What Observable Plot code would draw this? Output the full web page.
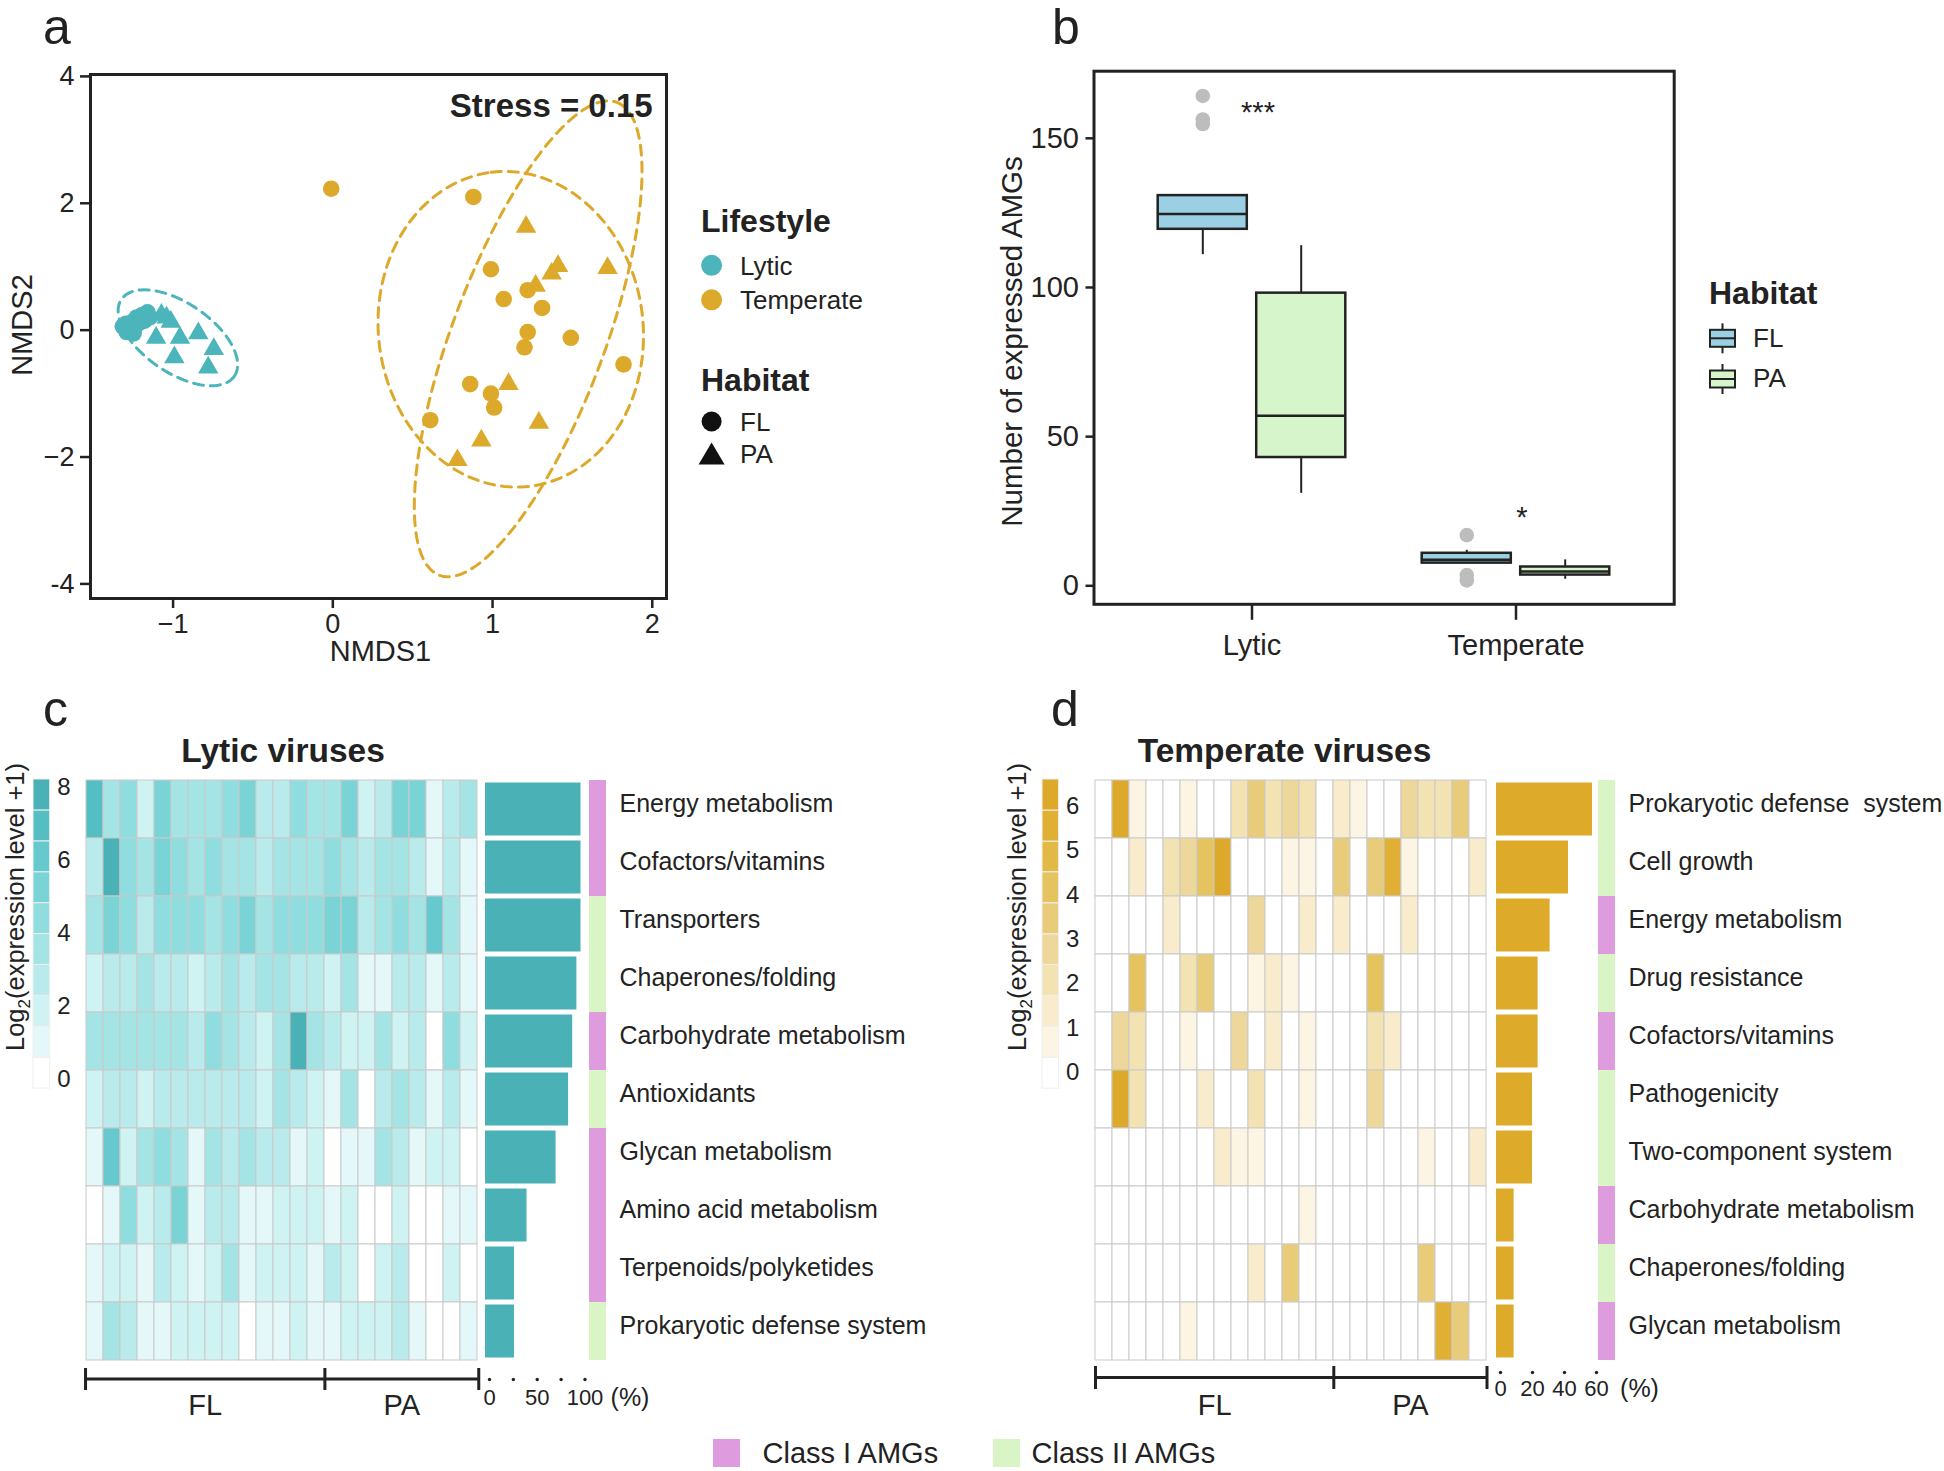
<!DOCTYPE html>
<html>
<head>
<meta charset="utf-8">
<script src="https://cdn.jsdelivr.net/npm/d3@7"></script>
<script src="https://cdn.jsdelivr.net/npm/@observablehq/plot@0.6"></script>
<style>
html, body { margin: 0; padding: 0; background: #fff; }
#fig { position: relative; width: 1944px; height: 1471px; overflow: hidden; background: #fff; }
</style>
</head>
<body>
<div id="fig"></div>
<script>
const TEAL = "#4BB5BB", GOLD = "#DDA92B", INK = "#222222";
const FONT = "'Liberation Sans', Arial, Helvetica, sans-serif";

// ---------------- Panel a : NMDS ----------------
const nmdsXTicks = [-1, 0, 1, 2];
const nmdsXTickLabels = ["\u22121", "0", "1", "2"];
const nmdsYTicks = [4, 2, 0, -2, -4];
const nmdsYTickLabels = ["4", "2", "0", "\u22122", "-4"];
const lyticFL = [[-1.315,0.06],[-1.296,0.10],[-1.277,0.03],[-1.269,-0.02],[-1.255,0.13],[-1.236,0.06],[-1.228,0.20],
  [-1.209,0.12],[-1.193,0.24],[-1.179,0.15],[-1.160,0.28],[-1.147,0.20],[-1.291,-0.03],[-1.247,-0.05]];
const lyticPA = [[-1.073,0.24],[-1.014,0.13],[-1.041,0.20],[-1.106,-0.12],[-0.957,-0.12],[-0.842,-0.05],
  [-0.745,-0.30],[-0.992,-0.43],[-0.780,-0.59]];
const temperateFL = [[-0.01,2.23],[0.88,2.10],[0.99,0.96],[1.07,0.49],[1.22,0.63],[1.31,0.35],[1.22,-0.03],
  [1.20,-0.27],[1.49,-0.12],[1.82,-0.54],[0.86,-0.85],[0.99,-1.00],[1.01,-1.22],[0.61,-1.42]];
const temperatePA = [[1.21,1.63],[1.41,1.01],[1.37,0.89],[1.27,0.70],[1.72,0.98],[1.10,-0.85],[1.29,-1.46],
  [0.93,-1.74],[0.78,-2.05]];
// 95% ellipses: centre and two semi-axis vectors (data units)
const ellipseLifestyle = ["Lytic", "Temperate", "Temperate"];
const ellipseCenter = [[-0.97,-0.12],[1.114,0.014],[1.223,-0.137]];
const ellipseAxisU = [[0.354,-0.603],[-0.122,2.474],[0.556,3.727]];
const ellipseAxisV = [[-0.121,-0.456],[0.822,0.260],[0.446,-0.426]];

// ---------------- Panel b : boxplots ----------------
const boxCategories = ["Lytic", "Temperate"];
const boxGroup = ["Lytic", "Lytic", "Temperate", "Temperate"];
const boxHabitat = ["FL", "PA", "FL", "PA"];
const boxLow = [111, 31, 7.6, 2.2];
const boxQ1 = [119.5, 43, 7.6, 3.6];
const boxMedian = [124.6, 57, 8.7, 4.8];
const boxQ3 = [130.8, 98.1, 10.9, 6.3];
const boxHigh = [130.8, 114, 11.9, 8.7];
const outlierGroup = ["Lytic", "Lytic", "Lytic", "Temperate", "Temperate", "Temperate"];
const outlierValue = [164.2, 156.3, 154.8, 17.0, 3.6, 1.8];
const boxYTicks = [0, 50, 100, 150];
const sigGroup = ["Lytic", "Temperate"];
const sigLabel = ["***", "*"];
const sigY = [158.5, 22.7];

// ---------------- Panels c, d : heatmaps ----------------
const sampleIds = ["FL1","FL2","FL3","FL4","FL5","FL6","FL7","FL8","FL9","FL10","FL11","FL12","FL13","FL14",
  "PA1","PA2","PA3","PA4","PA5","PA6","PA7","PA8","PA9"];
const sampleHabitat = ["FL","FL","FL","FL","FL","FL","FL","FL","FL","FL","FL","FL","FL","FL",
  "PA","PA","PA","PA","PA","PA","PA","PA","PA"];

const lyticCategories = ["Energy metabolism","Cofactors/vitamins","Transporters","Chaperones/folding",
  "Carbohydrate metabolism","Antioxidants","Glycan metabolism","Amino acid metabolism",
  "Terpenoids/polyketides","Prokaryotic defense system"];
const lyticClass = ["Class I","Class I","Class II","Class II","Class I","Class II","Class I","Class I","Class I","Class II"];
const lyticPercent = [100, 100, 100, 95.7, 91.3, 87, 73.9, 43.5, 30.4, 30.4];
const lyticExpression = [
  [6.9,3.6,4.4,1.9,5.2,3.6,3.6,3.6,4.4,5.2,2.7,2.7,4.4,3.6,3.6,5.2,1.9,2.7,5.2,5.2,1.0,2.7,3.6],
  [2.7,7.8,4.4,3.6,5.2,4.4,3.6,4.4,3.6,3.6,2.7,3.6,3.6,3.6,4.4,3.6,2.7,3.6,3.6,2.7,1.0,2.7,1.0],
  [3.6,5.2,4.4,2.7,4.4,4.4,4.4,3.6,4.4,5.2,3.6,4.4,4.4,4.4,5.2,5.2,2.7,3.6,4.4,3.6,6.1,3.6,1.0],
  [1.9,2.7,2.7,3.6,2.7,2.7,1.9,2.7,3.6,2.7,3.6,3.6,2.7,2.7,1.9,3.6,1.0,1.0,2.7,2.7,1.0,2.7,1.0],
  [3.6,3.6,3.6,3.6,3.6,3.6,2.7,4.4,3.6,2.7,1.9,3.6,7.8,3.6,2.7,1.9,1.9,3.6,1.9,2.7,0,4.4,1.9],
  [1.9,2.7,2.7,1.9,2.7,2.7,2.7,2.7,2.7,2.7,1.9,3.6,2.7,1.9,1.0,3.6,0,2.7,3.6,2.7,1.0,2.7,1.0],
  [1.0,6.1,1.9,3.6,4.4,3.6,1.0,3.6,2.7,3.6,2.7,2.7,1.0,1.9,0,1.0,1.0,3.6,2.7,1.0,1.9,1.9,0],
  [0,1.0,4.4,1.9,2.7,5.2,1.0,2.7,2.7,1.0,1.0,1.9,1.9,1.9,1.0,1.9,0,0,1.9,0,0,1.0,1.0],
  [1.0,1.9,1.9,1.0,2.7,1.9,1.0,1.9,3.6,1.0,1.9,1.9,1.9,1.0,2.7,1.9,0,1.9,2.7,0,0,1.9,0],
  [1.0,3.6,2.7,1.0,1.0,1.9,1.9,1.9,1.9,0,1.0,1.0,1.9,1.0,1.0,1.9,1.9,1.9,2.7,1.0,0,0,1.0]
];
const lyticThresholds = [0.595, 1.44, 2.285, 3.13, 3.975, 4.82, 5.665, 6.51, 7.355];
const lyticLegendRange = [-0.25, 8.2];
const lyticRamp = ["#FFFFFF","#E5F8F9","#CFF2F3","#B9EBEC","#A4E4E5","#8FDDDF","#7AD4D6","#66C9CD","#55BEC3","#4AB1B7"];
const lyticLegendTicks = [0, 2, 4, 6, 8];
const lyticPctTicks = [0, 25, 50, 75, 100];
const lyticPctLabels = [0, 50, 100];

const temperateCategories = ["Prokaryotic defense\u00A0 system","Cell growth","Energy metabolism","Drug resistance",
  "Cofactors/vitamins","Pathogenicity","Two-component system","Carbohydrate metabolism",
  "Chaperones/folding","Glycan metabolism"];
const temperateClass = ["Class II","Class II","Class I","Class II","Class I","Class II","Class II","Class I","Class II","Class I"];
const temperatePercent = [60, 45, 33.5, 26, 26, 22.5, 22.5, 11, 11, 11];
const temperateExpression = [
  [0,6.2,0.7,0,0,0.7,0,0,2.1,3.5,2.1,2.8,2.1,0,1.4,0.7,0,0,2.8,2.1,2.1,3.5,0],
  [0,0,1.4,0,2.1,2.8,4.2,6.2,0,0,0,0.7,0.7,0,3.5,0,3.5,5.6,0.7,0,0,0,1.4],
  [0,0,0,0,1.4,0,0,0,0,2.8,0,0,1.4,0,1.4,0,0,0,1.4,0,0,0,0],
  [0,0,4.2,0,0,2.1,3.5,0,0,0.7,1.4,0.7,0,0,0,0,4.2,0,0,0,0,0,0],
  [0,2.8,2.1,0,0,0.7,0,0,2.8,0,1.4,0,0.7,0,0,0,2.1,1.4,0,0,0,0,0],
  [0,6.2,2.1,0,0,0,1.4,0,0,2.1,0,0,0.7,0,0,0,2.8,0,0,0,0,0,0],
  [0,0,0,0,0,0,0,1.4,0.7,0.7,0,0,0,0,0,0,0,0,0,0.7,0,0,1.4],
  [0,0,0,0,0,0,0,0,0,0,0,0,0.7,0,0,0,0,0,0,0,0,0,0],
  [0,0,0,0,0,0,0,0,0,1.4,0,3.5,0,0,0,0,0,0,0,3.5,0,0,0],
  [0,0,0,0,0,0.7,0,0,0,0,0,0,0,0,0,0,0,0,0,0,5.6,3.5,0]
];
const temperateThresholds = [0.327, 1.024, 1.72, 2.42, 3.11, 3.81, 4.51, 5.2, 5.9];
const temperateLegendRange = [-0.37, 6.6];
const temperateRamp = ["#FFFFFF","#FCF5E3","#F8ECCC","#F3E2B2","#EED79A","#E9CC79","#E5C35F","#E2B946","#DFB034","#DCA92A"];
const temperateLegendTicks = [0, 1, 2, 3, 4, 5, 6];
const temperatePctTicks = [0, 20, 40, 60];
const temperatePctLabels = [0, 20, 40, 60];

const classNames = ["Class I", "Class II"];
const classColors = ["#DE9CDE", "#DAF5C5"];

// ---------------- helpers ----------------
const fig = document.getElementById("fig");
function place(svg, left, top) {
  svg.style.position = "absolute";
  svg.style.left = left + "px";
  svg.style.top = top + "px";
  svg.style.maxWidth = "none";
  svg.style.overflow = "visible";
  svg.style.background = "transparent";
  fig.appendChild(svg);
}
const baseStyle = (size) => ({fontFamily: FONT, fontSize: size + "px", color: INK, background: "transparent"});

// ---------------- Panel a ----------------
const nmdsPoints = [
  ...lyticFL.map(([x, y]) => ({x, y, lifestyle: "Lytic", habitat: "FL"})),
  ...lyticPA.map(([x, y]) => ({x, y, lifestyle: "Lytic", habitat: "PA"})),
  ...temperateFL.map(([x, y]) => ({x, y, lifestyle: "Temperate", habitat: "FL"})),
  ...temperatePA.map(([x, y]) => ({x, y, lifestyle: "Temperate", habitat: "PA"}))
];
const ellipsePath = [];
ellipseLifestyle.forEach((life, k) => {
  const [cx, cy] = ellipseCenter[k], [ux, uy] = ellipseAxisU[k], [vx, vy] = ellipseAxisV[k];
  for (let i = 0; i <= 160; i++) {
    const t = 2 * Math.PI * i / 160;
    ellipsePath.push({id: k, lifestyle: life,
      x: cx + ux * Math.cos(t) + vx * Math.sin(t),
      y: cy + uy * Math.cos(t) + vy * Math.sin(t)});
  }
});
const plotA = Plot.plot({
  width: 680, height: 680, marginLeft: 90, marginRight: 14, marginTop: 74, marginBottom: 82,
  style: baseStyle(27),
  x: {domain: [-1.517, 2.089]},
  y: {domain: [-4.23, 4.03]},
  color: {domain: ["Lytic", "Temperate"], range: [TEAL, GOLD]},
  symbol: {domain: ["FL", "PA"], range: ["circle", "triangle"]},
  marks: [
    Plot.dot(nmdsPoints, {filter: d => d.habitat === "FL", x: "x", y: "y", fill: "lifestyle", symbol: "habitat", r: 8.3}),
    Plot.dot(nmdsPoints, {filter: d => d.habitat === "PA", x: "x", y: "y", fill: "lifestyle", symbol: "habitat", r: 7.6}),
    Plot.line(ellipsePath, {x: "x", y: "y", z: "id", stroke: "lifestyle", strokeWidth: 3, strokeDasharray: "10,7"}),
    Plot.frame({stroke: INK, strokeWidth: 3}),
    Plot.axisX({ticks: nmdsXTicks, tickFormat: d => nmdsXTickLabels[nmdsXTicks.indexOf(d)], tickSize: 10, tickPadding: 5, strokeWidth: 2.5, label: null}),
    Plot.axisY({ticks: nmdsYTicks, tickFormat: d => nmdsYTickLabels[nmdsYTicks.indexOf(d)], tickSize: 10, tickPadding: 6, strokeWidth: 2.5, label: null})
  ]
});
place(plotA, 0, 0);

// ---------------- Panel b ----------------
const boxes = boxGroup.map((g, i) => ({group: g, habitat: boxHabitat[i], low: boxLow[i], q1: boxQ1[i],
  median: boxMedian[i], q3: boxQ3[i], high: boxHigh[i]}));
const outliers = outlierGroup.map((g, i) => ({group: g, value: outlierValue[i]}));
const sig = sigGroup.map((g, i) => ({group: g, label: sigLabel[i], y: sigY[i]}));
function boxMarks(h) {
  const off = h === "FL" ? -49.2 : 49.2;
  const inL = h === "FL" ? 4.7 : 103.2, inR = h === "FL" ? 103.2 : 4.7;
  const data = boxes.filter(d => d.habitat === h);
  return [
    Plot.ruleX(data, {x: "group", y1: "low", y2: "q1", dx: off, stroke: INK, strokeWidth: 2}),
    Plot.ruleX(data, {x: "group", y1: "q3", y2: "high", dx: off, stroke: INK, strokeWidth: 2}),
    Plot.barY(data, {x: "group", y1: "q1", y2: "q3", fill: "habitat", stroke: INK, strokeWidth: 2.5, insetLeft: inL, insetRight: inR}),
    Plot.tickY(data, {x: "group", y: "median", stroke: INK, strokeWidth: 2.5, insetLeft: inL, insetRight: inR})
  ];
}
const plotB = Plot.plot({
  width: 700, height: 680, marginLeft: 103.5, marginRight: 16.3, marginTop: 70.7, marginBottom: 76.2,
  style: baseStyle(29),
  x: {domain: boxCategories, paddingInner: 0.255, paddingOuter: 0.225},
  y: {domain: [-6.2, 172.5]},
  color: {domain: ["FL", "PA"], range: ["#9BD0E4", "#D7F5CA"]},
  marks: [
    ...boxMarks("FL"), ...boxMarks("PA"),
    Plot.dot(outliers, {x: "group", y: "value", dx: -49.2, fill: "#BDBDBD", r: 7.3}),
    Plot.text(sig, {x: "group", y: "y", text: "label", dx: 6, fontSize: 29}),
    Plot.frame({stroke: INK, strokeWidth: 3}),
    Plot.axisX({tickSize: 16, tickPadding: 14, strokeWidth: 2.5, label: null}),
    Plot.axisY({ticks: boxYTicks, tickSize: 8, tickPadding: 7, strokeWidth: 2.5, label: null})
  ]
});
place(plotB, 990, 0);

// ---------------- Panels c, d ----------------
function habitatGroups() {
  const groups = [];
  sampleHabitat.forEach((h, i) => {
    const g = groups.find(g => g.name === h);
    if (g) g.end = i + 1; else groups.push({name: h, start: i, end: i + 1});
  });
  groups.forEach(g => g.mid = (g.start + g.end) / 2);
  return groups;
}
const groups = habitatGroups();
const boundaries = [0, ...groups.map(g => g.end)];

function heatPanel(o) {
  const cells = o.expr.flatMap((row, r) => row.map((v, c) => ({category: o.cats[r], sample: sampleIds[c], value: v})));
  const rows = o.cats.map((c, i) => ({category: c, cls: o.classes[i], pct: o.pct[i]}));
  const top = 778, H = 580;
  // heatmap
  place(Plot.plot({
    width: o.heatRight - o.heatLeft + 4, height: H + 4, margin: 2, style: baseStyle(20),
    x: {domain: sampleIds, padding: 0, axis: null},
    y: {domain: o.cats, padding: 0, axis: null},
    color: {type: "threshold", domain: o.thresholds, range: o.ramp},
    marks: [Plot.cell(cells, {x: "sample", y: "category", fill: "value", stroke: "#CACACA", strokeWidth: 1, inset: 0})]
  }), o.heatLeft - 2, top);
  // bracket FL / PA
  place(Plot.plot({
    width: o.heatRight - o.heatLeft + 4, height: 5 + o.bracketH + 50,
    marginLeft: 2, marginRight: 2, marginTop: 5, marginBottom: 50, style: baseStyle(29),
    x: {domain: [0, sampleIds.length], axis: null},
    marks: [
      Plot.barX(groups, {x1: "start", x2: "end", fill: INK, insetTop: (o.bracketH - 3) / 2, insetBottom: (o.bracketH - 3) / 2}),
      Plot.tickX(boundaries, {x: d => d, stroke: INK, strokeWidth: 3}),
      Plot.text(groups, {x: "mid", text: "name", frameAnchor: "bottom", lineAnchor: "middle", textAnchor: "middle", dy: o.bracketLabelDy, fontSize: 29})
    ]
  }), o.heatLeft - 2, o.bracketTop - 5);
  // bars
  place(Plot.plot({
    width: 2 + (o.barRight - o.barLeft) + 80, height: H + 62, marginLeft: 2, marginRight: 80, marginTop: 2, marginBottom: 60,
    style: baseStyle(22),
    x: {domain: [0, o.barMax], axis: null},
    y: {domain: o.cats, padding: 0, axis: null},
    marks: [
      Plot.barX(rows, {x: "pct", y: "category", fill: o.barColor, insetTop: 2.5, insetBottom: 2.5}),
      Plot.dot(o.pctTicks, {x: d => d, frameAnchor: "bottom", dx: 4, dy: o.dotDy, r: 1.7, fill: INK}),
      Plot.text(o.pctLabels, {x: d => d, text: d => String(d), frameAnchor: "bottom", lineAnchor: "middle", textAnchor: "middle", dx: 4, dy: o.pctLabelDy, fontSize: 22}),
      Plot.text(["(%)"], {text: d => d, frameAnchor: "bottom-right", lineAnchor: "middle", textAnchor: "middle", dx: o.unitDx, dy: o.pctLabelDy, fontSize: 25})
    ]
  }), o.barLeft - 2, top);
  // class strip + row labels
  place(Plot.plot({
    width: (o.stripRight - o.stripLeft) + 380, height: H + 4, marginLeft: 0, marginRight: 380, marginTop: 2, marginBottom: 2,
    style: baseStyle(25),
    x: {domain: ["AMG class"], padding: 0, axis: null},
    y: {domain: o.cats, padding: 0, axis: null},
    color: {domain: classNames, range: classColors},
    marks: [
      Plot.cell(rows, {x: () => "AMG class", y: "category", fill: "cls", inset: 0}),
      Plot.text(rows, {y: "category", text: "category", frameAnchor: "right", dx: o.labelDx, dy: -5, textAnchor: "start", lineAnchor: "middle", fontSize: 25})
    ]
  }), o.stripLeft, top);
  // colour bar legend
  const edges = [o.legendRange[0], ...o.thresholds, o.legendRange[1]];
  const blocks = o.ramp.map((c, i) => ({y1: edges[i], y2: edges[i + 1]}));
  place(Plot.plot({
    width: (o.cbRight - o.cbLeft) + 40, height: o.cbBottom - o.cbTop + 2, marginLeft: 0, marginRight: 40, marginTop: 1, marginBottom: 1,
    style: baseStyle(24),
    y: {domain: o.legendRange, axis: null},
    color: {type: "threshold", domain: o.thresholds, range: o.ramp},
    marks: [
      Plot.rect(blocks, {y1: "y1", y2: "y2", fill: "y1", stroke: "#EFEFEF", strokeWidth: 1}),
      Plot.text(o.legendTicks, {y: d => d, text: d => String(d), frameAnchor: "right", dx: 7, textAnchor: "start", lineAnchor: "middle", fontSize: 24})
    ]
  }), o.cbLeft, o.cbTop - 1);
}

heatPanel({
  cats: lyticCategories, classes: lyticClass, pct: lyticPercent, expr: lyticExpression,
  thresholds: lyticThresholds, ramp: lyticRamp, legendRange: lyticLegendRange, legendTicks: lyticLegendTicks,
  heatLeft: 85.4, heatRight: 478.7, bracketTop: 1368, bracketH: 22, bracketLabelDy: 15,
  barLeft: 484.5, barRight: 580, barMax: 100, barColor: "#4AB1B7",
  pctTicks: lyticPctTicks, pctLabels: lyticPctLabels, dotDy: 19, pctLabelDy: 37, unitDx: 49,
  stripLeft: 589.3, stripRight: 606.7, labelDx: 12.6,
  cbLeft: 33.3, cbRight: 50, cbTop: 779.4, cbBottom: 1088.5
});
heatPanel({
  cats: temperateCategories, classes: temperateClass, pct: temperatePercent, expr: temperateExpression,
  thresholds: temperateThresholds, ramp: temperateRamp, legendRange: temperateLegendRange, legendTicks: temperateLegendTicks,
  heatLeft: 1095, heatRight: 1486.5, bracketTop: 1366, bracketH: 23, bracketLabelDy: 16,
  barLeft: 1496, barRight: 1592, barMax: 60, barColor: "#DDAA2A",
  pctTicks: temperatePctTicks, pctLabels: temperatePctLabels, dotDy: 12, pctLabelDy: 28, unitDx: 47,
  stripLeft: 1597.7, stripRight: 1615, labelDx: 12.7,
  cbLeft: 1041.7, cbRight: 1058.3, cbTop: 779.4, cbBottom: 1088.6
});

// ---------------- annotations, titles, legends ----------------
const ov = d3.select(fig).append("svg")
  .attr("width", 1944).attr("height", 1471)
  .style("position", "absolute").style("left", "0px").style("top", "0px")
  .style("overflow", "visible").style("pointer-events", "none")
  .attr("font-family", FONT).attr("fill", INK);
function T(x, y, s, size, o = {}) {
  const t = ov.append("text").attr("x", x).attr("y", y).attr("font-size", size).text(s);
  if (o.anchor) t.attr("text-anchor", o.anchor);
  if (o.bold) t.attr("font-weight", "bold");
  if (o.rotate) t.attr("transform", `rotate(-90 ${x} ${y})`);
  return t;
}
// panel letters
T(43, 44, "a", 50); T(1052, 44, "b", 50); T(43, 726, "c", 50); T(1051, 726, "d", 50);
// panel a
T(652.6, 117, "Stress = 0.15", 33, {anchor: "end", bold: true});
T(380.5, 661, "NMDS1", 29, {anchor: "middle"});
T(31.5, 325, "NMDS2", 29, {anchor: "middle", rotate: true});
T(701, 232, "Lifestyle", 32, {bold: true});
ov.append("circle").attr("cx", 711.6).attr("cy", 265.3).attr("r", 10.5).attr("fill", TEAL);
T(740, 274.5, "Lytic", 26);
ov.append("circle").attr("cx", 711.6).attr("cy", 299.8).attr("r", 10.5).attr("fill", GOLD);
T(740, 309, "Temperate", 26);
T(701, 391, "Habitat", 32, {bold: true});
ov.append("circle").attr("cx", 711.6).attr("cy", 421.5).attr("r", 10).attr("fill", "#111");
T(740, 430.5, "FL", 26);
ov.append("path").attr("d", "M711.6,442.5 L724.6,464.5 L698.6,464.5 Z").attr("fill", "#111");
T(740, 463, "PA", 26);
// panel b
T(1022, 341.5, "Number of expressed AMGs", 29.5, {anchor: "middle", rotate: true});
T(1709, 303.5, "Habitat", 32, {bold: true});
[["FL", "#9BD0E4", 338.3, 346.5], ["PA", "#D7F5CA", 379, 387]].forEach(([lab, col, cy, by]) => {
  ov.append("line").attr("x1", 1722.5).attr("x2", 1722.5).attr("y1", cy - 15).attr("y2", cy + 15).attr("stroke", INK).attr("stroke-width", 2);
  ov.append("rect").attr("x", 1710).attr("y", cy - 8.5).attr("width", 25).attr("height", 17).attr("fill", col).attr("stroke", INK).attr("stroke-width", 2);
  ov.append("line").attr("x1", 1710).attr("x2", 1735).attr("y1", cy).attr("y2", cy).attr("stroke", INK).attr("stroke-width", 2);
  T(1753, by, lab, 26);
});
// panels c, d
T(283, 762, "Lytic viruses", 33.5, {anchor: "middle", bold: true});
T(1284.5, 762, "Temperate viruses", 33.5, {anchor: "middle", bold: true});
function logLabel(x, y) {
  const t = ov.append("text").attr("transform", `translate(${x},${y}) rotate(-90)`)
    .attr("text-anchor", "middle").attr("font-size", 25.5);
  t.append("tspan").text("Log");
  t.append("tspan").attr("font-size", 17).attr("dy", 6).text("2");
  t.append("tspan").attr("dy", -6).text("(expression level +1)");
}
logLabel(24, 907);
logLabel(1026, 907);
// class legend
ov.append("rect").attr("x", 713).attr("y", 1439).attr("width", 27).attr("height", 28).attr("fill", classColors[0]);
T(762.5, 1463, "Class I AMGs", 29);
ov.append("rect").attr("x", 993).attr("y", 1439).attr("width", 27).attr("height", 28).attr("fill", classColors[1]);
T(1031.5, 1463, "Class II AMGs", 29);
</script>
</body>
</html>
